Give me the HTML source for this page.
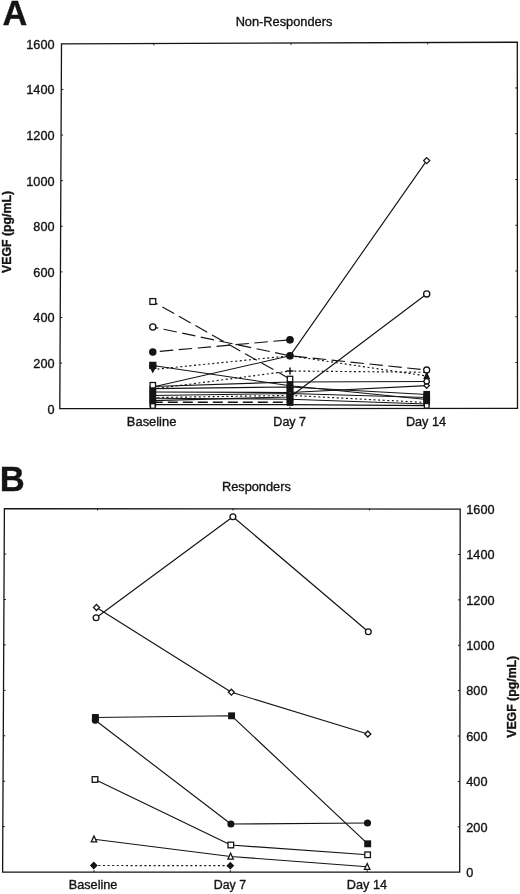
<!DOCTYPE html>
<html lang="en">
<head>
<meta charset="utf-8">
<title>VEGF levels: Non-Responders and Responders</title>
<style>
html,body{margin:0;padding:0;background:#fff;}
body{width:520px;height:894px;overflow:hidden;}
svg{display:block;}
svg text{font-family:"Liberation Sans",Arial,Helvetica,sans-serif;fill:#141414;stroke:#141414;stroke-width:0.35px;}
svg{will-change:transform;transform:translateZ(0);}
</style>
</head>
<body>
<svg width="520" height="894" viewBox="0 0 520 894">
<rect x="0" y="0" width="520" height="894" fill="#ffffff"/>
<polygon points="61.5,43.85 517.3,42.2 517.5,408.3 59.8,408.7" fill="none" stroke="#141414" stroke-width="1.3"/>
<text x="54.50" y="48.75" font-size="12.7" text-anchor="end" font-weight="normal">1600</text>
<line x1="61.29" y1="89.46" x2="63.29" y2="89.46" stroke="#141414" stroke-width="1.0" stroke-linecap="butt"/>
<line x1="517.32" y1="87.96" x2="515.32" y2="87.96" stroke="#141414" stroke-width="1.0" stroke-linecap="butt"/>
<text x="54.50" y="94.36" font-size="12.7" text-anchor="end" font-weight="normal">1400</text>
<line x1="61.08" y1="135.06" x2="63.08" y2="135.06" stroke="#141414" stroke-width="1.0" stroke-linecap="butt"/>
<line x1="517.35" y1="133.73" x2="515.35" y2="133.73" stroke="#141414" stroke-width="1.0" stroke-linecap="butt"/>
<text x="54.50" y="139.96" font-size="12.7" text-anchor="end" font-weight="normal">1200</text>
<line x1="60.86" y1="180.67" x2="62.86" y2="180.67" stroke="#141414" stroke-width="1.0" stroke-linecap="butt"/>
<line x1="517.38" y1="179.49" x2="515.38" y2="179.49" stroke="#141414" stroke-width="1.0" stroke-linecap="butt"/>
<text x="54.50" y="185.57" font-size="12.7" text-anchor="end" font-weight="normal">1000</text>
<line x1="60.65" y1="226.27" x2="62.65" y2="226.27" stroke="#141414" stroke-width="1.0" stroke-linecap="butt"/>
<line x1="517.40" y1="225.25" x2="515.40" y2="225.25" stroke="#141414" stroke-width="1.0" stroke-linecap="butt"/>
<text x="54.50" y="231.17" font-size="12.7" text-anchor="end" font-weight="normal">800</text>
<line x1="60.44" y1="271.88" x2="62.44" y2="271.88" stroke="#141414" stroke-width="1.0" stroke-linecap="butt"/>
<line x1="517.42" y1="271.01" x2="515.42" y2="271.01" stroke="#141414" stroke-width="1.0" stroke-linecap="butt"/>
<text x="54.50" y="276.78" font-size="12.7" text-anchor="end" font-weight="normal">600</text>
<line x1="60.22" y1="317.49" x2="62.22" y2="317.49" stroke="#141414" stroke-width="1.0" stroke-linecap="butt"/>
<line x1="517.45" y1="316.78" x2="515.45" y2="316.78" stroke="#141414" stroke-width="1.0" stroke-linecap="butt"/>
<text x="54.50" y="322.39" font-size="12.7" text-anchor="end" font-weight="normal">400</text>
<line x1="60.01" y1="363.09" x2="62.01" y2="363.09" stroke="#141414" stroke-width="1.0" stroke-linecap="butt"/>
<line x1="517.48" y1="362.54" x2="515.48" y2="362.54" stroke="#141414" stroke-width="1.0" stroke-linecap="butt"/>
<text x="54.50" y="367.99" font-size="12.7" text-anchor="end" font-weight="normal">200</text>
<text x="54.50" y="413.60" font-size="12.7" text-anchor="end" font-weight="normal">0</text>
<line x1="153.80" y1="43.52" x2="153.80" y2="45.32" stroke="#141414" stroke-width="1.0" stroke-linecap="butt"/>
<line x1="152.80" y1="408.62" x2="152.80" y2="406.82" stroke="#141414" stroke-width="1.0" stroke-linecap="butt"/>
<line x1="291.00" y1="43.02" x2="291.00" y2="44.82" stroke="#141414" stroke-width="1.0" stroke-linecap="butt"/>
<line x1="290.00" y1="408.50" x2="290.00" y2="406.70" stroke="#141414" stroke-width="1.0" stroke-linecap="butt"/>
<line x1="427.70" y1="42.53" x2="427.70" y2="44.33" stroke="#141414" stroke-width="1.0" stroke-linecap="butt"/>
<line x1="426.70" y1="408.38" x2="426.70" y2="406.58" stroke="#141414" stroke-width="1.0" stroke-linecap="butt"/>
<text x="284.00" y="25.60" font-size="12.8" text-anchor="middle" font-weight="normal">Non-Responders</text>
<text x="151.60" y="425.60" font-size="12.9" text-anchor="middle" font-weight="normal">Baseline</text>
<text x="289.70" y="425.60" font-size="12.5" text-anchor="middle" font-weight="normal">Day 7</text>
<text x="426.00" y="425.60" font-size="12.7" text-anchor="middle" font-weight="normal">Day 14</text>
<text x="10.90" y="232.00" font-size="12.3" text-anchor="middle" font-weight="bold" stroke="none" transform="rotate(-90 10.90 232.00)">VEGF (pg/mL)</text>
<text x="14.90" y="25.10" font-size="34.3" text-anchor="middle" font-weight="bold">A</text>
<polyline points="152.80,301.50 290.00,379.00" fill="none" stroke="#141414" stroke-width="1.15" stroke-dasharray="13.5 5.5" stroke-dashoffset="8" stroke-linejoin="round"/>
<polyline points="152.80,327.00 290.00,355.80 426.70,370.00" fill="none" stroke="#141414" stroke-width="1.15" stroke-dasharray="13.5 5.5" stroke-dashoffset="8" stroke-linejoin="round"/>
<polyline points="152.80,352.00 290.00,339.80" fill="none" stroke="#141414" stroke-width="1.15" stroke-dasharray="13.5 5.5" stroke-dashoffset="12" stroke-linejoin="round"/>
<polyline points="152.80,365.50 290.00,385.80 426.70,399.50" fill="none" stroke="#141414" stroke-width="1.15" stroke-linejoin="round"/>
<polyline points="152.80,369.50 290.00,355.80 426.70,376.00" fill="none" stroke="#141414" stroke-width="1.15" stroke-dasharray="2 2.6" stroke-dashoffset="0" stroke-linejoin="round"/>
<polyline points="152.80,387.00 290.00,355.80 426.70,160.60" fill="none" stroke="#141414" stroke-width="1.15" stroke-linejoin="round"/>
<polyline points="152.80,389.00 290.00,371.00 426.70,372.30" fill="none" stroke="#141414" stroke-width="1.15" stroke-dasharray="2 2.6" stroke-dashoffset="0" stroke-linejoin="round"/>
<polyline points="152.80,386.50 290.00,382.00 426.70,381.50" fill="none" stroke="#141414" stroke-width="1.15" stroke-linejoin="round"/>
<polyline points="152.80,388.60 290.00,387.00 426.70,394.50" fill="none" stroke="#141414" stroke-width="1.15" stroke-linejoin="round"/>
<polyline points="152.80,392.00 290.00,392.50 426.70,385.60" fill="none" stroke="#141414" stroke-width="1.15" stroke-linejoin="round"/>
<polyline points="152.80,395.50 290.00,393.50 426.70,397.50" fill="none" stroke="#141414" stroke-width="1.15" stroke-linejoin="round"/>
<polyline points="152.80,398.20 290.00,399.20 426.70,404.00" fill="none" stroke="#141414" stroke-width="1.15" stroke-linejoin="round"/>
<polyline points="152.80,397.60 290.00,395.40 426.70,402.50" fill="none" stroke="#141414" stroke-width="1.15" stroke-dasharray="2 2.6" stroke-dashoffset="0" stroke-linejoin="round"/>
<polyline points="152.80,402.30 290.00,402.30" fill="none" stroke="#141414" stroke-width="1.5" stroke-dasharray="10 5" stroke-dashoffset="0" stroke-linejoin="round"/>
<polyline points="152.80,404.60 290.00,404.60 426.70,405.60" fill="none" stroke="#141414" stroke-width="1.15" stroke-linejoin="round"/>
<polyline points="152.80,400.60 290.00,397.00 426.70,294.00" fill="none" stroke="#141414" stroke-width="1.15" stroke-linejoin="round"/>
<rect x="150.10" y="386.30" width="5.40" height="5.40" fill="#141414" stroke="#141414" stroke-width="1.3"/>
<rect x="150.10" y="389.30" width="5.40" height="5.40" fill="#141414" stroke="#141414" stroke-width="1.3"/>
<rect x="150.10" y="392.30" width="5.40" height="5.40" fill="#141414" stroke="#141414" stroke-width="1.3"/>
<rect x="150.10" y="395.30" width="5.40" height="5.40" fill="#141414" stroke="#141414" stroke-width="1.3"/>
<rect x="150.10" y="398.30" width="5.40" height="5.40" fill="#141414" stroke="#141414" stroke-width="1.3"/>
<rect x="150.10" y="401.30" width="5.40" height="5.40" fill="#141414" stroke="#141414" stroke-width="1.3"/>
<rect x="150.10" y="382.50" width="5.40" height="5.40" fill="#fff" stroke="#141414" stroke-width="1.3"/>
<rect x="150.50" y="403.70" width="4.60" height="4.60" fill="#fff" stroke="#141414" stroke-width="1.3"/>
<polygon points="152.80,372.00 155.90,365.80 149.70,365.80" fill="#141414" stroke="#141414" stroke-width="1.3"/>
<rect x="149.80" y="362.40" width="6.00" height="6.00" fill="#141414" stroke="#141414" stroke-width="1.3"/>
<circle cx="152.80" cy="352.10" r="3.10" fill="#141414" stroke="#141414" stroke-width="1.3"/>
<circle cx="152.80" cy="327.00" r="3.10" fill="#fff" stroke="#141414" stroke-width="1.3"/>
<rect x="149.90" y="298.60" width="5.80" height="5.80" fill="#fff" stroke="#141414" stroke-width="1.3"/>
<rect x="287.30" y="382.30" width="5.40" height="5.40" fill="#141414" stroke="#141414" stroke-width="1.3"/>
<rect x="287.30" y="385.30" width="5.40" height="5.40" fill="#141414" stroke="#141414" stroke-width="1.3"/>
<rect x="287.30" y="388.30" width="5.40" height="5.40" fill="#141414" stroke="#141414" stroke-width="1.3"/>
<rect x="287.30" y="391.30" width="5.40" height="5.40" fill="#141414" stroke="#141414" stroke-width="1.3"/>
<rect x="287.30" y="394.30" width="5.40" height="5.40" fill="#141414" stroke="#141414" stroke-width="1.3"/>
<rect x="287.30" y="397.30" width="5.40" height="5.40" fill="#141414" stroke="#141414" stroke-width="1.3"/>
<rect x="287.30" y="399.80" width="5.40" height="5.40" fill="#141414" stroke="#141414" stroke-width="1.3"/>
<rect x="287.30" y="376.30" width="5.40" height="5.40" fill="#fff" stroke="#141414" stroke-width="1.3"/>
<line x1="286.50" y1="371.00" x2="293.50" y2="371.00" stroke="#141414" stroke-width="1.5" stroke-linecap="butt"/>
<line x1="290.00" y1="367.40" x2="290.00" y2="374.60" stroke="#141414" stroke-width="1.5" stroke-linecap="butt"/>
<circle cx="290.00" cy="355.80" r="3.20" fill="#141414" stroke="#141414" stroke-width="1.3"/>
<circle cx="290.00" cy="339.80" r="3.20" fill="#141414" stroke="#141414" stroke-width="1.3"/>
<polygon points="290.00,390.60 291.40,393.80 288.60,393.80" fill="#fff" stroke="#141414" stroke-width="1.3"/>
<rect x="424.00" y="391.60" width="5.40" height="5.40" fill="#141414" stroke="#141414" stroke-width="1.3"/>
<rect x="424.00" y="394.30" width="5.40" height="5.40" fill="#141414" stroke="#141414" stroke-width="1.3"/>
<rect x="424.00" y="397.30" width="5.40" height="5.40" fill="#141414" stroke="#141414" stroke-width="1.3"/>
<rect x="424.00" y="399.30" width="5.40" height="5.40" fill="#141414" stroke="#141414" stroke-width="1.3"/>
<rect x="424.40" y="403.50" width="4.60" height="4.60" fill="#fff" stroke="#141414" stroke-width="1.3"/>
<polygon points="426.70,382.90 429.40,385.60 426.70,388.30 424.00,385.60" fill="#fff" stroke="#141414" stroke-width="1.3"/>
<circle cx="426.70" cy="381.30" r="2.70" fill="#fff" stroke="#141414" stroke-width="1.3"/>
<polygon points="426.70,373.10 429.10,378.30 424.30,378.30" fill="#141414" stroke="#141414" stroke-width="1.3"/>
<circle cx="426.70" cy="370.00" r="3.00" fill="#fff" stroke="#141414" stroke-width="1.3"/>
<polygon points="426.70,157.60 429.70,160.60 426.70,163.60 423.70,160.60" fill="#fff" stroke="#141414" stroke-width="1.3"/>
<circle cx="426.70" cy="293.90" r="3.10" fill="#fff" stroke="#141414" stroke-width="1.3"/>
<polygon points="4.4,508.6 460.2,509.1 459.7,872.2 2.6,872.1" fill="none" stroke="#141414" stroke-width="1.3"/>
<text x="466.30" y="513.90" font-size="12.7" text-anchor="start" font-weight="normal">1600</text>
<line x1="4.18" y1="554.04" x2="6.18" y2="554.04" stroke="#141414" stroke-width="1.0" stroke-linecap="butt"/>
<line x1="460.14" y1="554.49" x2="458.14" y2="554.49" stroke="#141414" stroke-width="1.0" stroke-linecap="butt"/>
<text x="466.30" y="559.29" font-size="12.7" text-anchor="start" font-weight="normal">1400</text>
<line x1="3.95" y1="599.48" x2="5.95" y2="599.48" stroke="#141414" stroke-width="1.0" stroke-linecap="butt"/>
<line x1="460.07" y1="599.88" x2="458.07" y2="599.88" stroke="#141414" stroke-width="1.0" stroke-linecap="butt"/>
<text x="466.30" y="604.67" font-size="12.7" text-anchor="start" font-weight="normal">1200</text>
<line x1="3.73" y1="644.91" x2="5.73" y2="644.91" stroke="#141414" stroke-width="1.0" stroke-linecap="butt"/>
<line x1="460.01" y1="645.26" x2="458.01" y2="645.26" stroke="#141414" stroke-width="1.0" stroke-linecap="butt"/>
<text x="466.30" y="650.06" font-size="12.7" text-anchor="start" font-weight="normal">1000</text>
<line x1="3.50" y1="690.35" x2="5.50" y2="690.35" stroke="#141414" stroke-width="1.0" stroke-linecap="butt"/>
<line x1="459.95" y1="690.65" x2="457.95" y2="690.65" stroke="#141414" stroke-width="1.0" stroke-linecap="butt"/>
<text x="466.30" y="695.45" font-size="12.7" text-anchor="start" font-weight="normal">800</text>
<line x1="3.28" y1="735.79" x2="5.28" y2="735.79" stroke="#141414" stroke-width="1.0" stroke-linecap="butt"/>
<line x1="459.89" y1="736.04" x2="457.89" y2="736.04" stroke="#141414" stroke-width="1.0" stroke-linecap="butt"/>
<text x="466.30" y="740.84" font-size="12.7" text-anchor="start" font-weight="normal">600</text>
<line x1="3.05" y1="781.23" x2="5.05" y2="781.23" stroke="#141414" stroke-width="1.0" stroke-linecap="butt"/>
<line x1="459.82" y1="781.43" x2="457.82" y2="781.43" stroke="#141414" stroke-width="1.0" stroke-linecap="butt"/>
<text x="466.30" y="786.23" font-size="12.7" text-anchor="start" font-weight="normal">400</text>
<line x1="2.83" y1="826.66" x2="4.83" y2="826.66" stroke="#141414" stroke-width="1.0" stroke-linecap="butt"/>
<line x1="459.76" y1="826.81" x2="457.76" y2="826.81" stroke="#141414" stroke-width="1.0" stroke-linecap="butt"/>
<text x="466.30" y="831.61" font-size="12.7" text-anchor="start" font-weight="normal">200</text>
<text x="466.30" y="877.00" font-size="12.7" text-anchor="start" font-weight="normal">0</text>
<line x1="97.50" y1="508.60" x2="97.50" y2="510.40" stroke="#141414" stroke-width="1.0" stroke-linecap="butt"/>
<line x1="93.90" y1="872.10" x2="93.90" y2="870.30" stroke="#141414" stroke-width="1.0" stroke-linecap="butt"/>
<line x1="233.00" y1="508.60" x2="233.00" y2="510.40" stroke="#141414" stroke-width="1.0" stroke-linecap="butt"/>
<line x1="230.30" y1="872.10" x2="230.30" y2="870.30" stroke="#141414" stroke-width="1.0" stroke-linecap="butt"/>
<line x1="369.50" y1="508.60" x2="369.50" y2="510.40" stroke="#141414" stroke-width="1.0" stroke-linecap="butt"/>
<line x1="367.20" y1="872.10" x2="367.20" y2="870.30" stroke="#141414" stroke-width="1.0" stroke-linecap="butt"/>
<text x="256.40" y="491.30" font-size="12.75" text-anchor="middle" font-weight="normal">Responders</text>
<text x="93.10" y="889.20" font-size="12.7" text-anchor="middle" font-weight="normal">Baseline</text>
<text x="229.90" y="889.40" font-size="12.4" text-anchor="middle" font-weight="normal">Day 7</text>
<text x="366.90" y="889.40" font-size="12.7" text-anchor="middle" font-weight="normal">Day 14</text>
<text x="516.20" y="696.80" font-size="12.3" text-anchor="middle" font-weight="bold" stroke="none" transform="rotate(-90 516.20 696.80)">VEGF (pg/mL)</text>
<text x="12.30" y="490.90" font-size="34.6" text-anchor="middle" font-weight="bold">B</text>
<polyline points="96.50,607.50 231.40,692.20 367.80,734.00" fill="none" stroke="#141414" stroke-width="1.15" stroke-linejoin="round"/>
<polyline points="96.10,617.70 232.90,516.70 368.30,631.70" fill="none" stroke="#141414" stroke-width="1.15" stroke-linejoin="round"/>
<polyline points="95.40,717.50 231.60,715.80 367.70,843.80" fill="none" stroke="#141414" stroke-width="1.15" stroke-linejoin="round"/>
<polyline points="95.30,720.30 230.90,824.00 367.50,823.00" fill="none" stroke="#141414" stroke-width="1.15" stroke-linejoin="round"/>
<polyline points="95.00,779.50 230.80,845.00 367.60,854.80" fill="none" stroke="#141414" stroke-width="1.15" stroke-linejoin="round"/>
<polyline points="94.00,839.30 230.60,856.50 367.20,866.70" fill="none" stroke="#141414" stroke-width="1.15" stroke-linejoin="round"/>
<polyline points="93.80,865.50 230.30,865.70" fill="none" stroke="#141414" stroke-width="1.15" stroke-dasharray="2 2.6" stroke-dashoffset="0" stroke-linejoin="round"/>
<polygon points="96.50,604.50 99.50,607.50 96.50,610.50 93.50,607.50" fill="#fff" stroke="#141414" stroke-width="1.3"/>
<polygon points="231.40,689.20 234.40,692.20 231.40,695.20 228.40,692.20" fill="#fff" stroke="#141414" stroke-width="1.3"/>
<polygon points="367.80,731.00 370.80,734.00 367.80,737.00 364.80,734.00" fill="#fff" stroke="#141414" stroke-width="1.3"/>
<circle cx="96.10" cy="617.70" r="2.90" fill="#fff" stroke="#141414" stroke-width="1.3"/>
<circle cx="232.90" cy="516.70" r="2.90" fill="#fff" stroke="#141414" stroke-width="1.3"/>
<circle cx="368.30" cy="631.70" r="2.90" fill="#fff" stroke="#141414" stroke-width="1.3"/>
<rect x="92.60" y="714.70" width="5.60" height="5.60" fill="#141414" stroke="#141414" stroke-width="1.3"/>
<rect x="228.80" y="713.00" width="5.60" height="5.60" fill="#141414" stroke="#141414" stroke-width="1.3"/>
<rect x="364.90" y="841.00" width="5.60" height="5.60" fill="#141414" stroke="#141414" stroke-width="1.3"/>
<circle cx="95.30" cy="720.30" r="2.90" fill="#141414" stroke="#141414" stroke-width="1.3"/>
<circle cx="230.90" cy="824.00" r="2.90" fill="#141414" stroke="#141414" stroke-width="1.3"/>
<circle cx="367.50" cy="823.00" r="2.90" fill="#141414" stroke="#141414" stroke-width="1.3"/>
<rect x="92.20" y="776.70" width="5.60" height="5.60" fill="#fff" stroke="#141414" stroke-width="1.3"/>
<rect x="228.00" y="842.20" width="5.60" height="5.60" fill="#fff" stroke="#141414" stroke-width="1.3"/>
<rect x="364.80" y="852.00" width="5.60" height="5.60" fill="#fff" stroke="#141414" stroke-width="1.3"/>
<polygon points="94.00,836.10 96.70,841.90 91.30,841.90" fill="#fff" stroke="#141414" stroke-width="1.3"/>
<polygon points="230.60,853.30 233.30,859.10 227.90,859.10" fill="#fff" stroke="#141414" stroke-width="1.3"/>
<polygon points="367.20,863.50 369.90,869.30 364.50,869.30" fill="#fff" stroke="#141414" stroke-width="1.3"/>
<polygon points="93.80,862.50 96.80,865.50 93.80,868.50 90.80,865.50" fill="#141414" stroke="#141414" stroke-width="1.3"/>
<polygon points="230.30,862.70 233.30,865.70 230.30,868.70 227.30,865.70" fill="#141414" stroke="#141414" stroke-width="1.3"/>
</svg>
</body>
</html>
